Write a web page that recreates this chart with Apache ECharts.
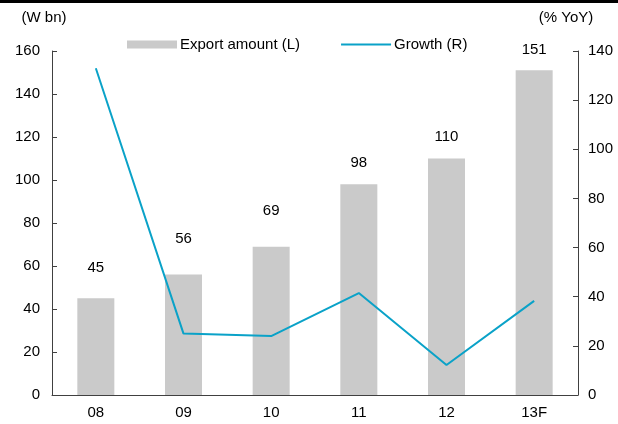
<!DOCTYPE html>
<html>
<head>
<meta charset="utf-8">
<script src="https://cdn.jsdelivr.net/npm/echarts@6/dist/echarts.min.js"></script>
<style>
  html, body { margin: 0; padding: 0; background: #fff; }
  #chart { width: 618px; height: 424px; }
</style>
</head>
<body>
<div id="chart"></div>
<script>
// years on the x axis
var years = ['08', '09', '10', '11', '12', '13F'];
// export amount, W bn (left axis)
var exportAmount = [45, 56, 69, 98, 110, 151];
// growth, % YoY (right axis)
var growth = [133, 25, 24, 41.5, 12.2, 38.3];

// how far each value label sits above its bar (the original nudges some up to clear the line)
var labelGap = [23, 28, 28, 14, 14, 13];

var axisColor = '#404040';
var font = 'Liberation Sans, Arial, sans-serif';
var fs = 15;

var barData = [];
for (var i = 0; i < exportAmount.length; i++) {
  barData.push({
    value: exportAmount[i],
    label: { distance: labelGap[i] }
  });
}

var myChart = echarts.init(document.getElementById('chart'));
myChart.setOption({
  animation: false,
  textStyle: { fontFamily: font },
  graphic: [
    {
      type: 'rect',
      shape: { x: 0, y: 0, width: 618, height: 3 },
      style: { fill: '#000' }
    }
  ],
  legend: {
    top: 37,
    left: 127,
    padding: 0,
    itemWidth: 50,
    itemHeight: 8,
    itemGap: 40,
    textStyle: { fontSize: fs, color: '#000', fontFamily: font, padding: [0, 0, 0, -2] },
    data: [
      { name: 'Export amount (L)', icon: 'rect' },
      { name: 'Growth (R)', itemStyle: { opacity: 0 } }
    ]
  },
  grid: {
    left: 52,
    right: 40,
    top: 51,
    bottom: 29
  },
  xAxis: {
    type: 'category',
    data: years,
    axisLine: { lineStyle: { color: axisColor, width: 1 } },
    axisTick: { inside: true, length: 5, lineStyle: { color: axisColor } },
    axisLabel: { color: '#000', fontSize: fs, margin: 10, fontFamily: font }
  },
  yAxis: [
    {
      type: 'value',
      min: 0,
      max: 160,
      interval: 20,
      name: '(W bn)',
      nameGap: 26,
      nameTextStyle: { color: '#000', fontSize: fs, fontFamily: font, padding: [0, 16, 0, 0] },
      splitLine: { show: false },
      axisLine: { show: true, lineStyle: { color: axisColor } },
      axisTick: { show: true, inside: true, length: 5, lineStyle: { color: axisColor } },
      axisLabel: { color: '#000', fontSize: fs, margin: 12, fontFamily: font }
    },
    {
      type: 'value',
      min: 0,
      max: 140,
      interval: 20,
      name: '(% YoY)',
      nameGap: 26,
      nameTextStyle: { color: '#000', fontSize: fs, fontFamily: font, padding: [0, 24, 0, 0] },
      splitLine: { show: false },
      axisLine: { show: true, lineStyle: { color: axisColor } },
      axisTick: { show: true, inside: true, length: 5, lineStyle: { color: axisColor } },
      axisLabel: { color: '#000', fontSize: fs, margin: 10, fontFamily: font }
    }
  ],
  series: [
    {
      name: 'Export amount (L)',
      type: 'bar',
      yAxisIndex: 0,
      barWidth: 37,
      itemStyle: { color: '#cacaca' },
      label: {
        show: true,
        position: 'top',
        color: '#000',
        fontSize: fs,
        fontFamily: font
      },
      data: barData
    },
    {
      name: 'Growth (R)',
      type: 'line',
      yAxisIndex: 1,
      symbol: 'none',
      lineStyle: { color: '#0aa2c8', width: 2 },
      itemStyle: { color: '#0aa2c8' },
      data: growth
    }
  ]
});
</script>
</body>
</html>
